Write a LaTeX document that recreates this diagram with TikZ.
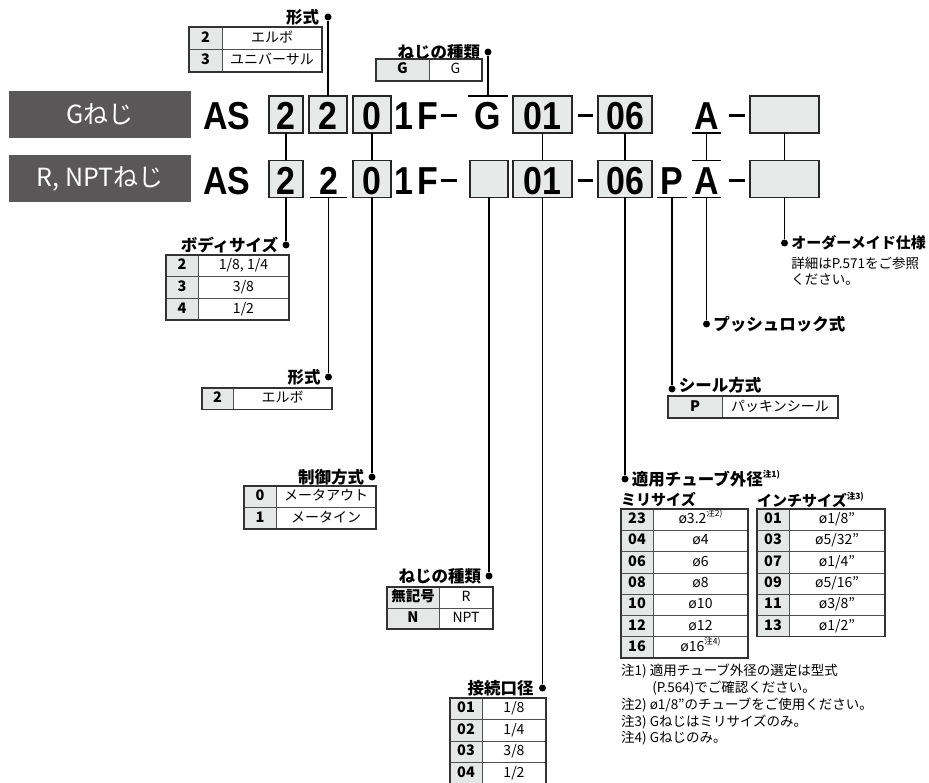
\documentclass[tikz,border=0pt]{standalone}
\usepackage{fontspec}
\usepackage{tikz}
\usetikzlibrary{positioning}

\setmainfont{Noto Sans CJK JP}
\newfontfamily\codefont[FakeStretch=0.87]{Liberation Sans}

\definecolor{hdrgray}{HTML}{595757}
\definecolor{boxfill}{HTML}{E8E9E9}
\definecolor{cellfill}{HTML}{E6E7E7}
\definecolor{tabline}{HTML}{505050}

% small note mark
\newcommand\chu[1]{\raisebox{0.5em}{\fontsize{8.5}{8.5}\selectfont 注#1)}}

% code table: name, x, y, code width, value width, row height, rows, entries
\newcommand\spectab[8]{%
  \foreach \cd/\vl [count=\i] in {#8} {
    \node[codecell, minimum width=#4pt, minimum height=#6pt, anchor=north west] (#1-c\i) at ({#2},{#3+(\i-1)*#6}) {\cd};
    \node[valcell, minimum width=#5pt, minimum height=#6pt, anchor=north west] (#1-v\i) at (#1-c\i.north east) {\vl};
  }
  \draw[tabframe] (#1-c1.north west) rectangle (#1-v#7.south east);
}

\begin{document}
\begin{tikzpicture}[x=1pt, y=-1pt,
  hdr/.style={fill=hdrgray, text=white, minimum width=182pt, minimum height=47pt, inner sep=0pt, font=\fontsize{25}{25}\selectfont},
  codebox/.style={draw=black!85, fill=boxfill, line width=1.6pt, inner sep=0pt, outer sep=0pt, minimum height=37pt, font=\codefont\bfseries\fontsize{39}{39}\selectfont, text height=31pt, text depth=0pt},
  codetxt/.style={inner sep=0pt, outer sep=0pt, minimum height=37pt, font=\codefont\bfseries\fontsize{39}{39}\selectfont, text height=31pt, text depth=0pt},
  codeline/.style={line width=1.6pt},
  codedash/.style={line width=3pt},
  conn/.style={line width=1.5pt},
  dot/.style={circle, fill=black, inner sep=0pt, minimum size=7pt},
  lbl/.style={inner sep=0pt, font=\bfseries\fontsize{16.5}{16.5}\selectfont},
  sublbl/.style={inner sep=0pt, font=\bfseries\fontsize{15}{15}\selectfont},
  note/.style={inner sep=0pt, align=left, font=\fontsize{13.5}{16.8}\selectfont},
  codecell/.style={draw=tabline, line width=0.8pt, fill=cellfill, inner sep=0pt, outer sep=0pt, font=\bfseries\fontsize{14.5}{14.5}\selectfont, text height=10.5pt, text depth=2.5pt},
  valcell/.style={draw=tabline, line width=0.8pt, fill=white, inner sep=0pt, outer sep=0pt, font=\fontsize{14}{14}\selectfont, text height=10.5pt, text depth=2.5pt},
  tabframe/.style={draw=black!80, line width=1.3pt}
]

\useasboundingbox (0,0) rectangle (929,783);

% thread headers
\node[hdr] (hG) at (100,114.5) {Gねじ};
\node[hdr] (hR) at (100,178.5) {R, NPTねじ};

% model code, G thread
\node[codetxt] (gAS) at (227,114.5) {AS};
\node[codebox, minimum width=34pt] (g1) at (286,114.5) {2};
\node[codebox, minimum width=38pt] (g2) at (328,114.5) {2};
\node[codebox, minimum width=38pt] (g3) at (372,114.5) {0};
\node[codetxt] (gOne) at (404,114.5) {1};
\node[codetxt] (gF) at (428,114.5) {F};
\draw[codedash] (441,116) -- (457,116);
\node[codetxt, minimum width=40pt] (gG) at (488,114.5) {G};
\node[codebox, minimum width=59pt] (g01) at (542.5,114.5) {01};
\draw[codedash] (578,116) -- (593,116);
\node[codebox, minimum width=54pt] (g06) at (625,114.5) {06};
\node[codetxt, minimum width=29pt] (gA) at (706.5,114.5) {A};
\draw[codedash] (729,116) -- (745,116);
\node[codebox, minimum width=69pt] (gX) at (784.5,114.5) {};

% model code, R/NPT thread
\node[codetxt] (rAS) at (227,179) {AS};
\node[codebox, minimum width=34pt] (r1) at (286,179) {2};
\node[codetxt, minimum width=37pt] (r2) at (328.5,179) {2};
\node[codebox, minimum width=38pt] (r3) at (372,179) {0};
\node[codetxt] (rOne) at (404,179) {1};
\node[codetxt] (rF) at (428,179) {F};
\draw[codedash] (441,181) -- (457,181);
\node[codebox, minimum width=38pt] (rT) at (489,179) {};
\node[codebox, minimum width=59pt] (r01) at (542.5,179) {01};
\draw[codedash] (578,181) -- (593,181);
\node[codebox, minimum width=54pt] (r06) at (625,179) {06};
\node[codetxt, minimum width=30pt] (rP) at (672,179) {P};
\node[codetxt, minimum width=29pt] (rA) at (706.5,179) {A};
\draw[codedash] (729,181) -- (745,181);
\node[codebox, minimum width=69pt] (rX) at (784.5,179) {};

% over- and underlines
\draw[codeline] (gG.north west) -- (gG.north east);
\draw[codeline] (gA.south west) -- (gA.south east);
\draw[codeline] (r2.south west) -- (r2.south east);
\draw[codeline] (rP.south west) -- (rP.south east);
\draw[codeline] (rA.north west) -- (rA.north east);
\draw[codeline] (rA.south west) -- (rA.south east);

% dots
\node[dot] (dFormTop) at (328,17) {};
\node[dot] (dThreadTop) at (488,52) {};
\node[dot] (dBody) at (286,245) {};
\node[dot] (dFormMid) at (328.5,377) {};
\node[dot] (dCtrl) at (372,477) {};
\node[dot] (dThread) at (489,576) {};
\node[dot] (dPort) at (542.5,688) {};
\node[dot] (dTube) at (625,479) {};
\node[dot] (dSeal) at (672,389) {};
\node[dot] (dLock) at (706.5,324) {};
\node[dot] (dOrder) at (784.5,243) {};

% connectors
\draw[conn] (g2.north) -- (dFormTop);
\draw[conn] (gG.north) -- (dThreadTop);
\draw[conn] (g1.south) -- (r1.north);
\draw[conn] (g3.south) -- (r3.north);
\draw[conn] (g01.south) -- (r01.north);
\draw[conn] (g06.south) -- (r06.north);
\draw[conn] (gA.south) -- (rA.north);
\draw[conn] (gX.south) -- (rX.north);
\draw[conn] (r1.south) -- (dBody);
\draw[conn] (r2.south) -- (dFormMid);
\draw[conn] (r3.south) -- (dCtrl);
\draw[conn] (rT.south) -- (dThread);
\draw[conn] (r01.south) -- (dPort);
\draw[conn] (r06.south) -- (dTube);
\draw[conn] (rP.south) -- (dSeal);
\draw[conn] (rA.south) -- (dLock);
\draw[conn] (rX.south) -- (dOrder);

% labels
\node[lbl, left=5pt of dFormTop] (lFormTop) {形式};
\node[lbl, left=4pt of dThreadTop] (lThreadTop) {ねじの種類};
\node[lbl, left=4pt of dBody] (lBody) {ボディサイズ};
\node[lbl, left=4pt of dFormMid] (lFormMid) {形式};
\node[lbl, left=4pt of dCtrl] (lCtrl) {制御方式};
\node[lbl, left=4pt of dThread] (lThread) {ねじの種類};
\node[lbl, left=5pt of dPort] (lPort) {接続口径};
\node[lbl, right=3pt of dTube] (lTube) {適用チューブ外径\chu{1}};
\node[lbl, right=3pt of dSeal, yshift=4pt] (lSeal) {シール方式};
\node[lbl, right=3pt of dLock] (lLock) {プッシュロック式};
\node[lbl, right=3pt of dOrder, font=\bfseries\fontsize{15}{15}\selectfont] (lOrder) {オーダーメイド仕様};
\node[note, anchor=north west] (nOrder) at ([yshift=-6pt]lOrder.south west) {詳細はP.571をご参照\\ください。};

% tables
\spectab{tFormTop}{189}{27}{33}{100}{22.5}{2}{2/エルボ, 3/ユニバーサル}
\spectab{tThreadTop}{376}{59}{53}{53}{22}{1}{G/G}
\spectab{tBody}{166}{255}{32}{91}{21.7}{3}{2/{1/8, 1/4}, 3/{3/8}, 4/{1/2}}
\spectab{tFormMid}{202}{388}{31}{99}{21.5}{1}{2/エルボ}
\spectab{tCtrl}{244}{486}{32}{100}{21.5}{2}{0/メータアウト, 1/メータイン}
\spectab{tThread}{387}{587}{52}{54}{21}{2}{無記号/R, N/NPT}
\spectab{tPort}{450}{698}{32}{64}{21.5}{4}{01/{1/8}, 02/{1/4}, 03/{3/8}, 04/{1/2}}
\spectab{tSeal}{668}{396}{54}{116}{22}{1}{P/パッキンシール}

% tube sizes
\node[sublbl, anchor=west] (hMilli) at (621,500) {ミリサイズ};
\node[sublbl, anchor=west] (hInch) at (757,500) {インチサイズ\chu{3}};
\spectab{tMilli}{621}{509}{32}{95}{21.3}{7}{23/ø3.2\chu{2}, 04/ø4, 06/ø6, 08/ø8, 10/ø10, 12/ø12, 16/ø16\chu{4}}
\spectab{tInch}{757}{509}{32}{96}{21.3}{6}{01/{ø1/8"}, 03/{ø5/32"}, 07/{ø1/4"}, 09/{ø5/16"}, 11/{ø3/8"}, 13/{ø1/2"}}

% notes
\node[note, anchor=north west] (nTube) at (621,664) {注1) 適用チューブ外径の選定は型式\\\hspace*{2.3em}(P.564)でご確認ください。\\注2) ø1/8"のチューブをご使用ください。\\注3) Gねじはミリサイズのみ。\\注4) Gねじのみ。};

\end{tikzpicture}
\end{document}
